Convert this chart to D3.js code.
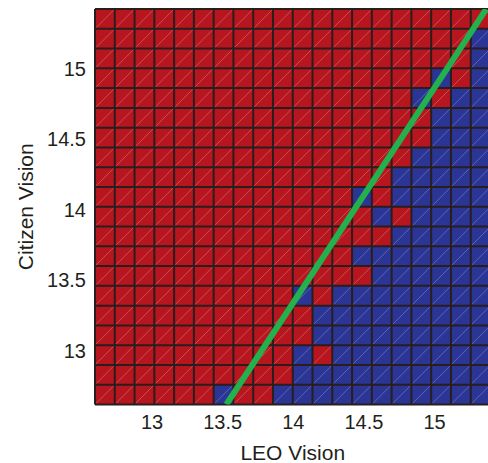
<!DOCTYPE html>
<html>
<head>
<meta charset="utf-8">
<script src="https://cdn.jsdelivr.net/npm/d3@7"></script>
<style>
  html, body { margin: 0; padding: 0; background: #fff; }
  svg { display: block; }
  text { font-family: "Liberation Sans", Arial, Helvetica, sans-serif; fill: #231f20; }
</style>
</head>
<body>
<svg id="chart" width="488" height="463"></svg>
<script>
// Grid cell centres along each axis
const leoVision = [12.67, 12.81, 12.95, 13.09, 13.23, 13.37, 13.51, 13.65, 13.79, 13.93,
                   14.07, 14.21, 14.35, 14.49, 14.63, 14.77, 14.91, 15.05, 15.19, 15.33];
// Row centres, listed from the top row down
const citizenVision = [15.33, 15.19, 15.05, 14.91, 14.77, 14.63, 14.49, 14.35, 14.21, 14.07,
                       13.93, 13.79, 13.65, 13.51, 13.37, 13.23, 13.09, 12.95, 12.81, 12.67];
// Outcome per cell (0 = Citizen preferred, 1 = LEO preferred), one string per row
const outcome = [
  "00000000000000000000",
  "00000000000000000001",
  "00000000000000000001",
  "00000000000000000101",
  "00000000000000001011",
  "00000000000000000111",
  "00000000000000000111",
  "00000000000000001111",
  "00000000000000011111",
  "00000000000001011111",
  "00000000000000101111",
  "00000000000000011111",
  "00000000000001111111",
  "00000000000000111111",
  "00000000001011111111",
  "00000000000111111111",
  "00000000000111111111",
  "00000000001011111111",
  "00000000001111111111",
  "00000010011111111111"
];
const xTicks = [13, 13.5, 14, 14.5, 15];
const yTicks = [13, 13.5, 14, 14.5, 15];
const domainExtent = [12.6, 15.4];
// Indifference line
const boundary = [{x: 13.53, y: 12.6}, {x: 15.37, y: 15.4}];

const colors = {0: "#b7161f", 1: "#2a3595"};

const margin = {left: 95, top: 9};
const size = 395.5;
const svg = d3.select("#chart");

const x = d3.scaleLinear().domain(domainExtent).range([margin.left, margin.left + size]);
const y = d3.scaleLinear().domain(domainExtent).range([margin.top + size, margin.top]);
const xb = d3.scaleBand().domain(leoVision).range([margin.left, margin.left + size]);
const yb = d3.scaleBand().domain(citizenVision).range([margin.top, margin.top + size]);

const cells = [];
outcome.forEach((row, ri) => {
  row.split("").forEach((v, ci) => {
    cells.push({lx: leoVision[ci], cy: citizenVision[ri], v: +v});
  });
});

const plot = svg.append("g");
plot.selectAll("rect.cell").data(cells).join("rect")
  .attr("class", "cell")
  .attr("x", d => xb(d.lx))
  .attr("y", d => yb(d.cy))
  .attr("width", xb.bandwidth())
  .attr("height", yb.bandwidth())
  .attr("fill", d => colors[d.v]);

// faint diagonal in each cell
plot.selectAll("line.diag").data(cells).join("line")
  .attr("class", "diag")
  .attr("x1", d => xb(d.lx) + 1)
  .attr("y1", d => yb(d.cy) + yb.bandwidth() - 1)
  .attr("x2", d => xb(d.lx) + xb.bandwidth() - 1)
  .attr("y2", d => yb(d.cy) + 1)
  .attr("stroke", "#ffffff")
  .attr("stroke-opacity", 0.3)
  .attr("stroke-width", 0.8);

// cell borders
const xEdges = leoVision.map(v => xb(v)).concat([margin.left + size]);
const yEdges = citizenVision.map(v => yb(v)).concat([margin.top + size]);
plot.selectAll("line.vgrid").data(xEdges).join("line")
  .attr("x1", d => d).attr("x2", d => d)
  .attr("y1", margin.top).attr("y2", margin.top + size)
  .attr("stroke", "#2a1d1e").attr("stroke-width", 2);
plot.selectAll("line.hgrid").data(yEdges).join("line")
  .attr("y1", d => d).attr("y2", d => d)
  .attr("x1", margin.left).attr("x2", margin.left + size)
  .attr("stroke", "#2a1d1e").attr("stroke-width", 2);

// boundary line, clipped to the plot
svg.append("clipPath").attr("id", "plotClip")
  .append("rect").attr("x", margin.left).attr("y", margin.top)
  .attr("width", size).attr("height", size);
svg.append("path")
  .datum(boundary)
  .attr("clip-path", "url(#plotClip)")
  .attr("d", d3.line().x(d => x(d.x)).y(d => y(d.y)))
  .attr("stroke", "#22b14c")
  .attr("stroke-width", 6)
  .attr("fill", "none");

// axes
const xAxis = svg.append("g")
  .attr("transform", `translate(0,${margin.top + size})`)
  .call(d3.axisBottom(x).tickValues(xTicks).tickSize(0).tickFormat(d3.format("")));
xAxis.select(".domain").remove();
xAxis.selectAll("text")
  .attr("y", 24.5).attr("dy", null)
  .style("font-size", "20px")
  .style("font-family", "Liberation Sans, Arial, sans-serif")
  .style("fill", "#231f20");

const yAxis = svg.append("g")
  .attr("transform", `translate(${margin.left},0)`)
  .call(d3.axisLeft(y).tickValues(yTicks).tickSize(0).tickFormat(d3.format("")));
yAxis.select(".domain").remove();
yAxis.selectAll("text")
  .attr("x", -9).attr("dy", "9.5px")
  .style("font-size", "20px")
  .style("font-family", "Liberation Sans, Arial, sans-serif")
  .style("fill", "#231f20");

svg.append("text")
  .attr("x", margin.left + size / 2)
  .attr("y", 460)
  .attr("text-anchor", "middle")
  .style("font-size", "21px")
  .text("LEO Vision");

svg.append("text")
  .attr("transform", `translate(33,${margin.top + size / 2}) rotate(-90)`)
  .attr("text-anchor", "middle")
  .style("font-size", "21px")
  .text("Citizen Vision");
</script>
</body>
</html>
